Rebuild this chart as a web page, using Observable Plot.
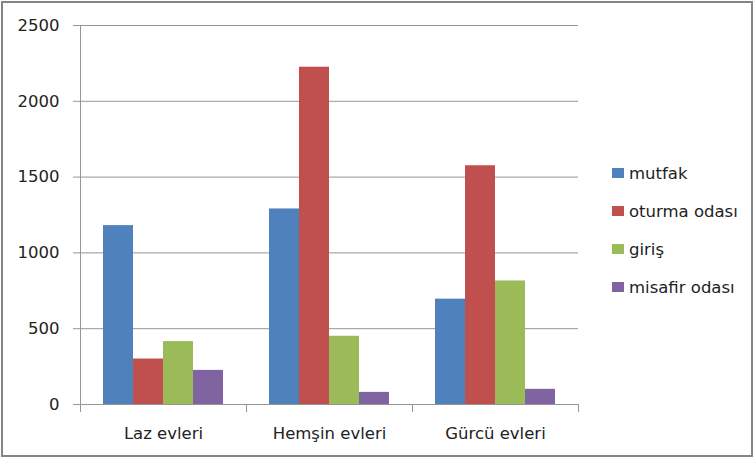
<!DOCTYPE html>
<html>
<head>
<meta charset="utf-8">
<script src="https://cdn.jsdelivr.net/npm/d3@7"></script>
<script src="https://cdn.jsdelivr.net/npm/@observablehq/plot@0.6"></script>
<style>
  html, body { margin: 0; padding: 0; background: #fff; }
  #wrap { position: relative; width: 754px; height: 460px; overflow: hidden; font-family: "DejaVu Sans", sans-serif; }
  #chart { position: absolute; left: 0; top: 0; }
  #border { position: absolute; left: 1px; top: 1px; width: 752px; height: 456px; box-sizing: border-box; border: 2px solid #858585; pointer-events: none; }
  #legend { position: absolute; left: 612px; top: 0; }
  .item { position: absolute; left: 0; display: flex; align-items: center; white-space: nowrap; font-size: 16.5px; color: #222; height: 20px; }
  .sw { width: 12px; height: 10px; margin-right: 5px; flex: none; }
</style>
</head>
<body>
<div id="wrap">
  <div id="chart"></div>
  <div id="legend"></div>
  <div id="border"></div>
</div>
<script>
const categories = ["Laz evleri", "Hemşin evleri", "Gürcü evleri"];
const series = ["mutfak", "oturma odası", "giriş", "misafir odası"];
const mutfak = [1180, 1290, 695];
const oturmaOdasi = [300, 2225, 1575];
const giris = [415, 450, 815];
const misafirOdasi = [225, 80, 100];
const yTicks = [0, 500, 1000, 1500, 2000, 2500];
const colors = ["#4F81BD", "#C0504D", "#9BBB59", "#8064A2"];

const seriesValues = [mutfak, oturmaOdasi, giris, misafirOdasi];
const rows = [];
categories.forEach((cat, i) => {
  series.forEach((s, j) => rows.push({cat, series: s, value: seriesValues[j][i]}));
});

const W = 600, H = 460, mTop = 25, mBottom = 56;
const plotH = H - mTop - mBottom;
const grey = "#959595";

const chart = Plot.plot({
  width: W,
  height: H,
  marginLeft: 79,
  marginRight: 22,
  marginTop: mTop,
  marginBottom: mBottom,
  style: {fontFamily: "DejaVu Sans, sans-serif", fontSize: "16.5px", color: "#222", background: "white"},
  fx: {domain: categories, paddingInner: 0, paddingOuter: 0, label: null},
  x: {domain: series, paddingInner: 0, paddingOuter: 0.75, axis: null},
  y: {domain: [0, 2500], label: null},
  color: {domain: series, range: colors},
  marks: [
    Plot.gridY(yTicks, {stroke: grey, strokeOpacity: 1}),
    Plot.axisY(yTicks, {tickSize: 7, tickPadding: 14, stroke: grey, fill: "#222", label: null, tickFormat: d => String(d)}),
    Plot.barY(rows, {fx: "cat", x: "series", y: "value", fill: "series"}),
    Plot.ruleY([0], {stroke: grey}),
    Plot.axisFx({anchor: "bottom", tickSize: 0, tickPadding: 23, label: null, fill: "#222"}),
    Plot.frame({anchor: "left", insetBottom: -7, stroke: grey, facetAnchor: "left"}),
    Plot.frame({anchor: "left", insetTop: plotH, insetBottom: -7, stroke: grey}),
    Plot.frame({anchor: "right", insetTop: plotH, insetBottom: -7, stroke: grey, facetAnchor: "right"})
  ]
});
document.getElementById("chart").appendChild(chart);

const legend = document.getElementById("legend");
const legendTop = 163, legendStep = 38;
series.forEach((s, i) => {
  const item = document.createElement("div");
  item.className = "item";
  item.style.top = (legendTop + i * legendStep) + "px";
  const sw = document.createElement("span");
  sw.className = "sw";
  sw.style.background = colors[i];
  const t = document.createElement("span");
  t.textContent = s;
  item.appendChild(sw);
  item.appendChild(t);
  legend.appendChild(item);
});
</script>
</body>
</html>
